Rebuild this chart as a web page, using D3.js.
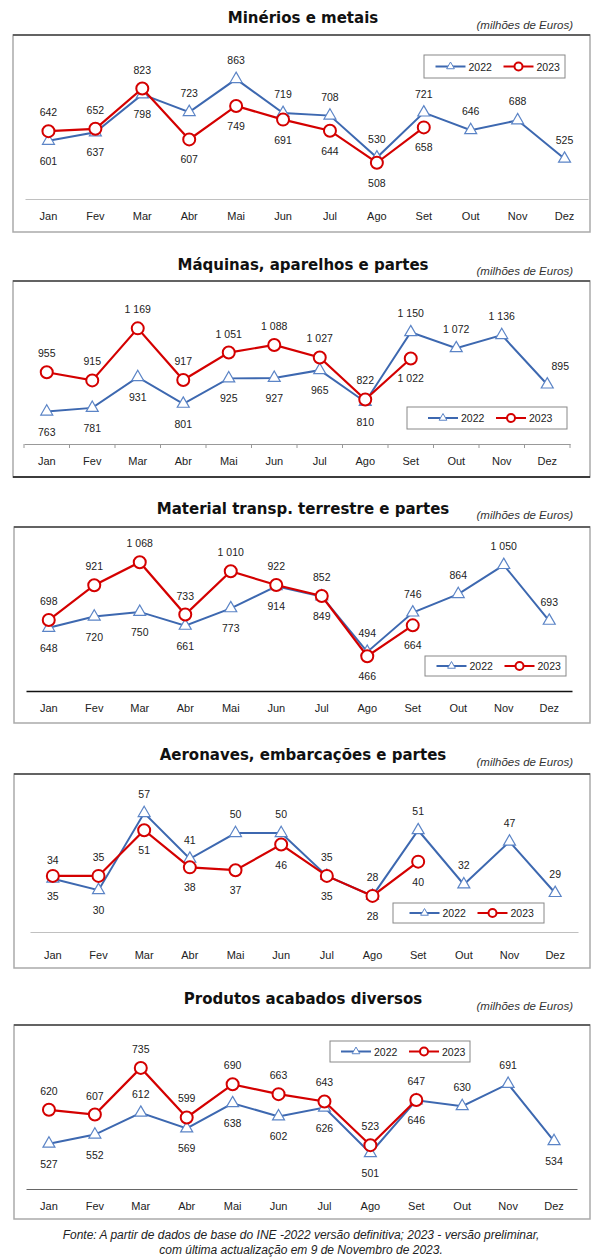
<!DOCTYPE html>
<html>
<head>
<meta charset="utf-8">
<script src="https://cdn.jsdelivr.net/npm/d3@7"></script>
<style>
  body { margin: 0; background: #fff; }
  svg { display: block; }
</style>
</head>
<body>
<div id="chart"></div>
<script>
// values (milhões de Euros)
const months = ["Jan", "Fev", "Mar", "Abr", "Mai", "Jun", "Jul", "Ago", "Set", "Out", "Nov", "Dez"];
const years = ["2022", "2023"];

const minerios2022 = [601, 637, 798, 723, 863, 719, 708, 530, 721, 646, 688, 525];
const minerios2023 = [642, 652, 823, 607, 749, 691, 644, 508, 658];
const maquinas2022 = [763, 781, 931, 801, 925, 927, 965, 810, 1150, 1072, 1136, 895];
const maquinas2023 = [955, 915, 1169, 917, 1051, 1088, 1027, 822, 1022];
const transp2022 = [648, 720, 750, 661, 773, 914, 849, 494, 746, 864, 1050, 693];
const transp2023 = [698, 921, 1068, 733, 1010, 922, 852, 466, 664];
const aero2022 = [34, 30, 57, 41, 50, 50, 35, 28, 51, 32, 47, 29];
const aero2023 = [35, 35, 51, 38, 37, 46, 35, 28, 40];
const produtos2022 = [527, 552, 612, 569, 638, 602, 626, 501, 646, 630, 691, 534];
const produtos2023 = [620, 607, 735, 599, 690, 663, 643, 523, 647];

// label placement (a = above, b = below, r = above right)
const side1 = ["bbbaaaaaaaaa", "aaabbbbbb"];
const side2 = ["bbbbbbbbaaar", "aaaaaaaab"];
const side3 = ["bbbbbbbaaaaa", "aaaaaaabb"];
const side4 = ["abaaaabaaaaa", "babbbbabb"];
const side5 = ["bbabbbbbbaab", "aaaaaaaaa"];

const W = 605, H = 1260;
const blue = "#3d68b0", blueMk = "#5b84c6", red = "#d40000";
const labelFont = "'Liberation Sans', Arial, sans-serif";
const fmt = d3.formatLocale({decimal: ",", thousands: " ", grouping: [3], currency: ["", ""]}).format(",");

const svg = d3.select("#chart").append("svg").attr("width", W).attr("height", H);

const panels = [
  {title: "Minérios e metais", s22: minerios2022, s23: minerios2023, side: side1,
   titleY: 23, unitY: 29, box: [13, 35, 590, 232], axisY: 199, axisX: [25, 588], pad: 13,
   dom: [350, 1050], rng: [200, 35], legend: [424, 55, 141, 23], axisCol: "#c0c0c0"},
  {title: "Máquinas, aparelhos e partes", s22: maquinas2022, s23: maquinas2023, side: side2,
   titleY: 270, unitY: 275, box: [13, 281, 590, 477], axisY: 444, axisX: [24, 570], pad: 13,
   dom: [600, 1400], rng: [445, 281], legend: [407, 407, 160, 22], axisCol: "#999", ticks: true, darkBottom: true},
  {title: "Material transp. terrestre e partes", s22: transp2022, s23: transp2023, side: side3,
   titleY: 514, unitY: 519, box: [14, 527, 590, 723], axisY: 691, axisX: [26, 572], pad: 13,
   dom: [250, 1300], rng: [690, 526], legend: [425, 656, 141, 20], axisCol: "#111"},
  {title: "Aeronaves, embarcações e partes", s22: aero2022, s23: aero2023, side: side4,
   titleY: 760, unitY: 766, box: [14, 774, 590, 968], axisY: 932, axisX: [30, 578], pad: 19,
   dom: [15, 70], rng: [933, 776], legend: [393, 903, 151, 20], axisCol: "#c0c0c0"},
  {title: "Produtos acabados diversos", s22: produtos2022, s23: produtos2023, side: side5,
   titleY: 1004, unitY: 1010, box: [14, 1025, 590, 1219], axisY: 1189, axisX: [26, 577], pad: 13,
   dom: [400, 850], rng: [1190, 1026], legend: [330, 1041, 140, 21], axisCol: "#666"}
];

const triangle = d3.symbol(d3.symbolTriangle, 62);
const triangleSmall = d3.symbol(d3.symbolTriangle, 26);

panels.forEach(p => {
  const g = svg.append("g");
  const [bx0, by0, bx1, by1] = p.box;

  g.append("text").attr("x", 303).attr("y", p.titleY).attr("text-anchor", "middle")
    .style("font", "bold 15px 'DejaVu Sans', Verdana, sans-serif").attr("fill", "#111").text(p.title);
  g.append("text").attr("x", 573).attr("y", p.unitY).attr("text-anchor", "end")
    .style("font", `italic 11.5px ${labelFont}`).attr("fill", "#333").text("(milhões de Euros)");

  // frame
  g.append("rect").attr("x", bx0).attr("y", by0).attr("width", bx1 - bx0).attr("height", by1 - by0)
    .attr("fill", "none").attr("stroke", "#aaa").attr("stroke-width", 1.5);
  g.append("line").attr("x1", bx0).attr("x2", bx1).attr("y1", by0).attr("y2", by0)
    .attr("stroke", "#444").attr("stroke-width", 1.5);
  if (p.darkBottom) g.append("line").attr("x1", bx0).attr("x2", bx1).attr("y1", by1).attr("y2", by1)
    .attr("stroke", "#111").attr("stroke-width", 1.5);

  const x = d3.scaleBand().domain(months).range(p.axisX);
  const y = d3.scaleLinear().domain(p.dom).range(p.rng);
  const cx = m => x(m) + x.bandwidth() / 2;

  const ax = g.append("g").attr("transform", `translate(0,${p.axisY})`)
    .call(d3.axisBottom(x).tickSize(0).tickSizeOuter(0).tickPadding(p.pad));
  ax.select(".domain").attr("stroke", p.axisCol).attr("stroke-width", p.axisCol === "#111" ? 1.5 : 1.2);
  ax.selectAll("text").style("font", `11px ${labelFont}`).attr("fill", "#222");
  if (p.ticks) {
    g.selectAll("line.tk").data(months.concat(["end"])).join("line").attr("class", "tk")
      .attr("x1", d => d === "end" ? p.axisX[1] : x(d)).attr("x2", d => d === "end" ? p.axisX[1] : x(d))
      .attr("y1", p.axisY).attr("y2", p.axisY + 4).attr("stroke", p.axisCol);
  }

  const series = [
    {vals: p.s22, col: blue, side: p.side[0]},
    {vals: p.s23, col: red, side: p.side[1]}
  ];
  const line = d3.line().x(d => cx(d.m)).y(d => y(d.v));

  series.forEach((s, si) => {
    const pts = s.vals.map((v, i) => ({m: months[i], v, side: s.side[i]}));
    g.append("path").datum(pts).attr("d", line).attr("fill", "none")
      .attr("stroke", s.col).attr("stroke-width", si ? 2.2 : 2);
    if (si === 0) {
      g.selectAll("path.tri").data(pts).join("path").attr("class", "tri").attr("d", triangle)
        .attr("transform", d => `translate(${cx(d.m)},${y(d.v)})`)
        .attr("fill", "#fff").attr("stroke", blueMk).attr("stroke-width", 1.2);
    } else {
      g.selectAll("circle.mk").data(pts).join("circle").attr("class", "mk")
        .attr("cx", d => cx(d.m)).attr("cy", d => y(d.v)).attr("r", 6)
        .attr("fill", "#fff").attr("stroke", s.col).attr("stroke-width", 2);
    }
    s.pts = pts;
  });

  series.forEach(s => {
    g.selectAll(null).data(s.pts).join("text")
      .attr("x", d => cx(d.m) + (d.side === "r" ? 13 : 0))
      .attr("y", d => y(d.v) + (d.side === "b" ? 24 : -15))
      .attr("text-anchor", "middle").style("font", `10.5px ${labelFont}`).attr("fill", "#222")
      .text(d => fmt(d.v));
  });

  // legend
  const [lx, ly, lw, lh] = p.legend;
  const lg = g.append("g").attr("transform", `translate(${lx},${ly})`);
  lg.append("rect").attr("width", lw).attr("height", lh).attr("fill", "#fff")
    .attr("stroke", "#888").attr("stroke-width", 1);
  const off = (lw - 118) / 2;
  years.forEach((yr, i) => {
    const x0 = off + i * 68, my = lh / 2;
    lg.append("line").attr("x1", x0).attr("x2", x0 + 30).attr("y1", my).attr("y2", my)
      .attr("stroke", i ? red : blue).attr("stroke-width", 2);
    if (i) lg.append("circle").attr("cx", x0 + 15).attr("cy", my).attr("r", 4)
      .attr("fill", "#fff").attr("stroke", red).attr("stroke-width", 2);
    else lg.append("path").attr("d", triangleSmall).attr("transform", `translate(${x0 + 15},${my})`)
      .attr("fill", "#fff").attr("stroke", blueMk);
    lg.append("text").attr("x", x0 + 33).attr("y", my + 4).style("font", `10.5px ${labelFont}`)
      .attr("fill", "#222").text(yr);
  });
});

svg.append("text").attr("x", 301).attr("y", 1239).attr("text-anchor", "middle")
  .style("font", `italic 12px ${labelFont}`).attr("fill", "#222")
  .text("Fonte: A partir de dados de base do INE -2022  versão definitiva; 2023 - versão preliminar,");
svg.append("text").attr("x", 301).attr("y", 1254).attr("text-anchor", "middle")
  .style("font", `italic 12px ${labelFont}`).attr("fill", "#222")
  .text("com última actualização em 9 de Novembro de 2023.");
</script>
</body>
</html>
